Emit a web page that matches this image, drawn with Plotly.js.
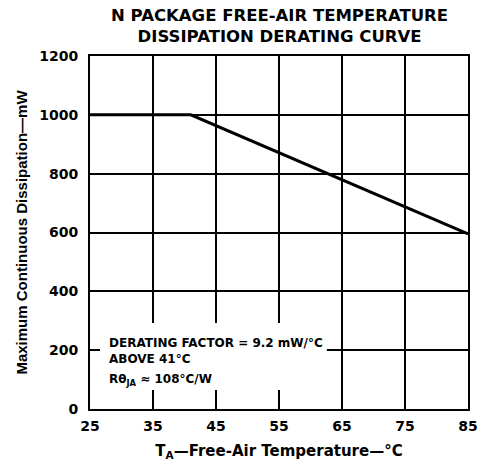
<!DOCTYPE html>
<html>
<head>
<meta charset="utf-8">
<script src="https://cdn.plot.ly/plotly-3.0.1.min.js"></script>
<style>html,body{margin:0;padding:0;background:#fff}#chart{width:482px;height:465px}</style>
</head>
<body>
<div id="chart"></div>
<script>
// Data
const tempC = [25, 41, 85];
const dissipationMW = [1000, 1000, 595];
const xTicks = [25, 35, 45, 55, 65, 75, 85];
const yTicks = [0, 200, 400, 600, 800, 1000, 1200];

const WIDE = 'DejaVu Sans, Verdana, sans-serif';
const NARROW = 'Liberation Sans, Arial, sans-serif';

const trace = {
  x: tempC, y: dissipationMW, mode: 'lines', type: 'scatter',
  line: {color: '#000', width: 3}, hoverinfo: 'skip'
};

const layout = {
  width: 482, height: 465,
  margin: {l: 90, r: 14, t: 56, b: 56},
  paper_bgcolor: '#fff', plot_bgcolor: '#fff',
  showlegend: false,
  font: {family: WIDE, color: '#000'},
  title: {
    text: '<b>N PACKAGE FREE-AIR TEMPERATURE<br>DISSIPATION DERATING CURVE</b>',
    font: {family: WIDE, size: 16.5, color: '#000'},
    x: 0.58, xanchor: 'center', yref: 'container', y: 0.955, yanchor: 'top'
  },
  xaxis: {
    range: [25, 85], tickvals: xTicks, ticktext: xTicks.map(v => '<b>' + v + '</b>'),
    showgrid: true, gridcolor: '#000', gridwidth: 2,
    showline: true, linecolor: '#000', linewidth: 2, mirror: true,
    ticks: '', zeroline: false, ticklabelstandoff: 3,
    tickfont: {family: WIDE, size: 14, color: '#000'},
    title: {text: '<b>T<sub>A</sub>—Free-Air Temperature—°C</b>', font: {family: WIDE, size: 15, color: '#000'}, standoff: 13}
  },
  yaxis: {
    range: [0, 1200], tickvals: yTicks, ticktext: yTicks.map(v => '<b>' + v + '</b>'),
    showgrid: true, gridcolor: '#000', gridwidth: 2,
    showline: true, linecolor: '#000', linewidth: 2, mirror: true,
    ticks: '', zeroline: false, ticklabelstandoff: 7,
    tickfont: {family: WIDE, size: 14, color: '#000'},
    title: {text: '<b>Maximum Continuous Dissipation—mW</b>', font: {family: NARROW, size: 15, color: '#000'}, standoff: 8}
  },
  shapes: [{
    type: 'rect', xref: 'x', yref: 'y', x0: 26.6, x1: 62.6, y0: 65, y1: 292,
    fillcolor: '#fff', line: {width: 0}, layer: 'between'
  }],
  annotations: [
    {xref: 'x', yref: 'y', x: 27.7, y: 198, xanchor: 'left', yanchor: 'middle', showarrow: false, align: 'left',
     text: '<b>DERATING FACTOR = 9.2 mW/°C<br>ABOVE 41°C</b>', font: {family: WIDE, size: 12, color: '#000'}},
    {xref: 'x', yref: 'y', x: 27.7, y: 100, xanchor: 'left', yanchor: 'middle', showarrow: false, align: 'left',
     text: '<b>Rθ<sub>JA</sub> ≈ 108°C/W</b>', font: {family: WIDE, size: 12, color: '#000'}}
  ]
};

Plotly.newPlot('chart', [trace], layout, {staticPlot: true, displayModeBar: false});
</script>
</body>
</html>
